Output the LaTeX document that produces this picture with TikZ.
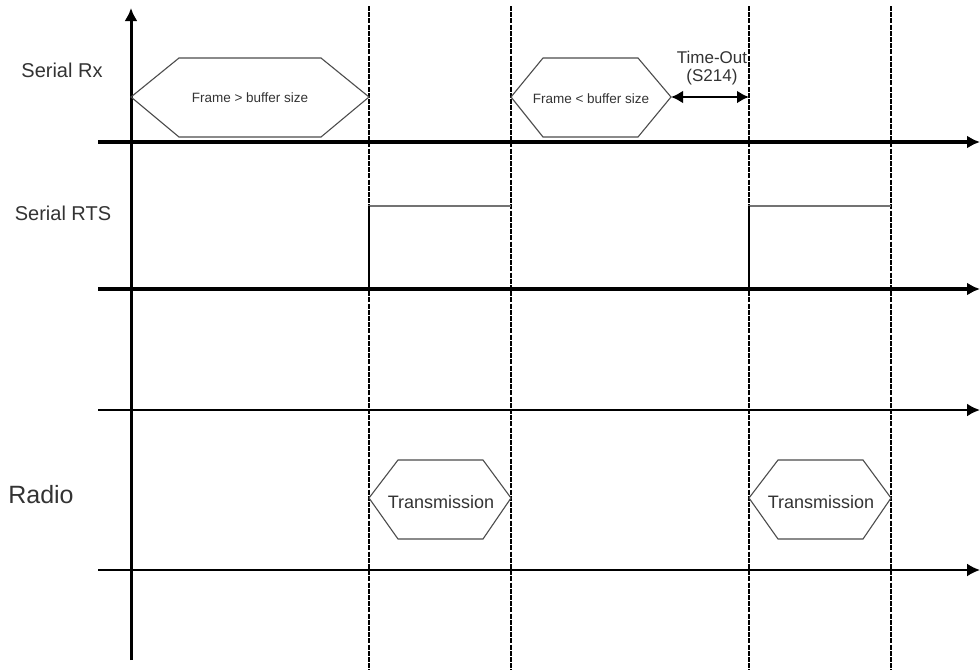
\documentclass[tikz,border=0pt]{standalone}
\usepackage{fontspec}
\setmainfont{Liberation Sans}
\usetikzlibrary{arrows.meta}

\begin{document}
\begin{tikzpicture}[x=1pt,y=-1pt,
  axis/.style={-{Latex[length=13pt,width=13pt]}},
  guide/.style={line width=1.6pt,dash pattern=on 5pt off 1.2pt},
  hexa/.style={draw=black!70,line width=1.1pt},
  pulse/.style={draw=black!55,line width=1.6pt},
  lbl/.style={text=black!80,inner sep=0pt}]

\useasboundingbox (0,0) rectangle (980,670);

\coordinate (g1t) at (369,6);
\coordinate (g1b) at (369,670);
\coordinate (g2t) at (511,6);
\coordinate (g2b) at (511,670);
\coordinate (g3t) at (749,6);
\coordinate (g3b) at (749,670);
\coordinate (g4t) at (891,6);
\coordinate (g4b) at (891,670);

\draw [guide] (g1t) -- (g1b);
\draw [guide] (g2t) -- (g2b);
\draw [guide] (g3t) -- (g3b);
\draw [guide] (g4t) -- (g4b);

\coordinate (rxa) at (98,142);
\coordinate (rxb) at (980,142);
\coordinate (rtsa) at (98,289);
\coordinate (rtsb) at (980,289);
\coordinate (mida) at (98,410);
\coordinate (midb) at (980,410);
\coordinate (rada) at (98,570);
\coordinate (radb) at (980,570);
\coordinate (yb) at (131,660);
\coordinate (yt) at (131,8);

\draw [axis,line width=3.6pt] (rxa) -- (rxb);
\draw [axis,line width=3.6pt] (rtsa) -- (rtsb);
\draw [axis,line width=2.4pt] (mida) -- (midb);
\draw [axis,line width=2pt] (rada) -- (radb);
\draw [axis,line width=3pt] (yb) -- (yt);

\node (rx) at (62,70) [lbl,font=\fontsize{20}{23}\selectfont]{Serial Rx};
\node (rts) at (63,213) [lbl,font=\fontsize{20}{23}\selectfont]{Serial RTS};
\node (radio) at (41,495) [lbl,font=\fontsize{25}{29}\selectfont]{Radio};

\draw [hexa] (131,97) -- (179,58) -- (321,58) -- (369,97) -- (321,137) -- (179,137) -- cycle;
\node (f1) at (250,98) [lbl,font=\fontsize{13.5}{15}\selectfont]{Frame > buffer size};

\draw [hexa] (511,97) -- (543,58) -- (638,58) -- (671,97) -- (638,137) -- (543,137) -- cycle;
\node (f2) at (591,99) [lbl,font=\fontsize{13.5}{15}\selectfont]{Frame < buffer size};

\coordinate (to1) at (671,97);
\coordinate (to2) at (749,97);
\draw [line width=2.6pt,{Latex[length=12pt,width=13pt]}-{Latex[length=12pt,width=13pt]}] (to1) -- (to2);
\node (to) at (712,68) [lbl,align=center,font=\fontsize{17}{17.5}\selectfont]{Time-Out\\(S214)};

\draw [pulse] (369,289) -- (369,206) -- (511,206);
\draw [line width=2.2pt] (369,206) -- (369,289);
\draw [pulse] (749,289) -- (749,206) -- (891,206);
\draw [line width=2.2pt] (749,206) -- (749,289);

\draw [hexa] (369,498) -- (398,460) -- (483,460) -- (511,498) -- (483,539) -- (398,539) -- cycle;
\node (tx1) at (441,502) [lbl,font=\fontsize{18}{21}\selectfont]{Transmission};

\draw [hexa] (749,498) -- (778,460) -- (863,460) -- (891,498) -- (863,539) -- (778,539) -- cycle;
\node (tx2) at (821,502) [lbl,font=\fontsize{18}{21}\selectfont]{Transmission};

\end{tikzpicture}
\end{document}
